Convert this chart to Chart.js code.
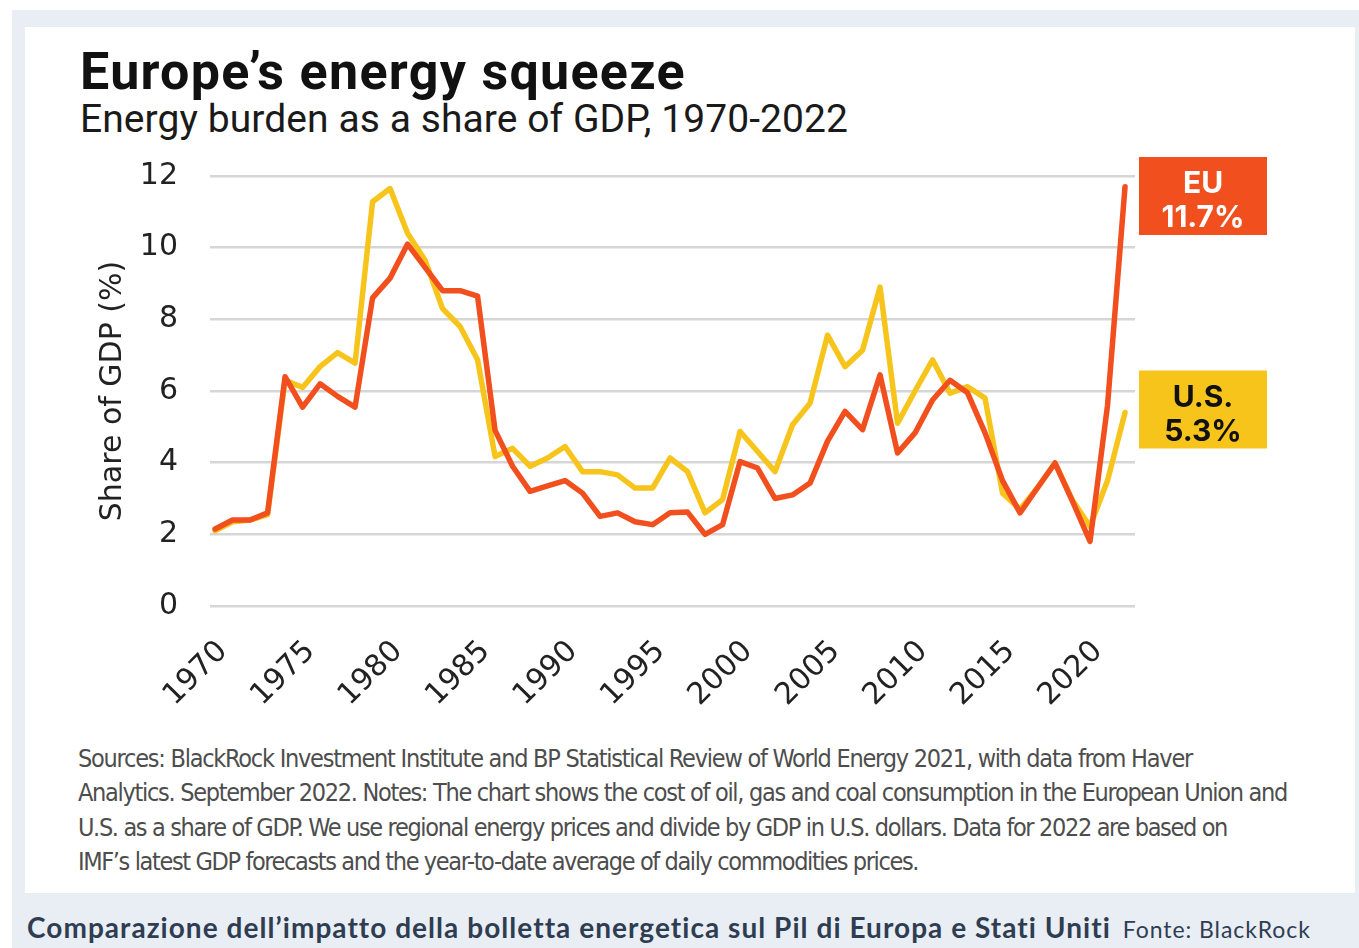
<!DOCTYPE html>
<html lang="en">
<head>
<meta charset="UTF-8" />
<title>Europe's energy squeeze</title>
<script src="https://cdn.jsdelivr.net/npm/chart.js"></script>
<style>
  html, body { margin: 0; padding: 0; background: #fff; }
  body { width: 1359px; height: 948px; position: relative; overflow: hidden; }
  #panel { position: absolute; left: 12px; top: 10px; right: 0; bottom: 0; background: #e9eef4; }
  #card { position: absolute; left: 25px; top: 27px; width: 1330px; height: 866px; background: #fff; }
  .txt { position: absolute; white-space: nowrap; }
  #title { left: 80px; top: 46px; font: 700 52px/52px Roboto, sans-serif; color: #111; }
  #subtitle { left: 80px; top: 100px; font: 400 39px/39px Roboto, sans-serif; color: #1a1a1a; }
  #chartBox { position: absolute; left: 80px; top: 126px; }
  #notes { left: 78px; top: 742px; font: 400 25px/34.3px "Liberation Sans Narrow", "DejaVu Sans Condensed", sans-serif; color: #4d4d4d; }
  #notes span { display: inline-block; }
  #caption { left: 27px; top: 913px; font: 700 28px/28px Lato, sans-serif; color: #2f3d52; }
  #caption .src { font-weight: 400; font-size: 23px; margin-left: 12px; }
</style>
</head>
<body>
  <div id="panel"></div>
  <div id="card"></div>
  <div class="txt" id="title"><span data-w="606">Europe’s energy squeeze</span></div>
  <div class="txt" id="subtitle"><span data-w="768">Energy burden as a share of GDP, 1970-2022</span></div>
  <div id="chartBox"><canvas id="energyChart" width="1200" height="590"></canvas></div>
  <div class="txt" id="notes">
    <span data-w="1114">Sources: BlackRock Investment Institute and BP Statistical Review of World Energy 2021, with data from Haver</span><br>
    <span data-w="1209">Analytics. September 2022. Notes: The chart shows the cost of oil, gas and coal consumption in the European Union and</span><br>
    <span data-w="1149">U.S. as a share of GDP. We use regional energy prices and divide by GDP in U.S. dollars. Data for 2022 are based on</span><br>
    <span data-w="840">IMF’s latest GDP forecasts and the year-to-date average of daily commodities prices.</span>
  </div>
  <div class="txt" id="caption"><span class="main" data-w="1083">Comparazione dell’impatto della bolletta energetica sul Pil di Europa e Stati Uniti</span><span class="src" data-w="188">Fonte: BlackRock</span></div>

<script>
  const years = [
    1970, 1971, 1972, 1973, 1974, 1975, 1976, 1977, 1978, 1979,
    1980, 1981, 1982, 1983, 1984, 1985, 1986, 1987, 1988, 1989,
    1990, 1991, 1992, 1993, 1994, 1995, 1996, 1997, 1998, 1999,
    2000, 2001, 2002, 2003, 2004, 2005, 2006, 2007, 2008, 2009,
    2010, 2011, 2012, 2013, 2014, 2015, 2016, 2017, 2018, 2019,
    2020, 2021, 2022,
  ];

  // share of GDP (%)
  const euShare = [
    2.15, 2.4, 2.4, 2.6, 6.4, 5.55, 6.2, 5.85, 5.55, 8.6,
    9.15, 10.1, 9.45, 8.8, 8.8, 8.65, 4.9, 3.9, 3.2, 3.35,
    3.5, 3.15, 2.5, 2.6, 2.35, 2.27, 2.6, 2.62, 2.0, 2.27,
    4.03, 3.85, 3.0, 3.1, 3.43, 4.6, 5.43, 4.92, 6.45, 4.27,
    4.83, 5.75, 6.3, 5.95, 4.83, 3.5, 2.6, 3.3, 3.99, 2.92,
    1.8, 5.6, 11.7,
  ];
  const usShare = [
    2.1, 2.35, 2.4, 2.55, 6.3, 6.1, 6.68, 7.07, 6.78, 11.28,
    11.65, 10.4, 9.65, 8.3, 7.8, 6.87, 4.17, 4.4, 3.9, 4.13,
    4.45, 3.75, 3.75, 3.66, 3.29, 3.29, 4.13, 3.75, 2.6, 2.97,
    4.87, 4.31, 3.75, 5.06, 5.66, 7.56, 6.68, 7.14, 8.9, 5.1,
    6.0, 6.87, 5.94, 6.12, 5.8, 3.15, 2.7, 3.3, 3.99, 2.95,
    2.22, 3.5, 5.4,
  ];

  const seriesNames = ["EU", "U.S."];
  const calloutValues = ["11.7%", "5.3%"];

  // stretch text lines to the widths they have in the original
  function fitWidth(el) {
    const target = parseFloat(el.dataset.w);
    el.style.letterSpacing = "0px";
    const w = el.getBoundingClientRect().width;
    el.style.letterSpacing = (target - w) / el.textContent.length + "px";
  }
  document.querySelectorAll("[data-w]").forEach(fitWidth);

  const calloutPlugin = {
    id: "callouts",
    afterDatasetsDraw(chart) {
      const { ctx, chartArea, scales } = chart;
      chart.data.datasets.forEach((ds, i) => {
        const last = ds.data[ds.data.length - 1].y;
        const w = 128, h = 78;
        let top = scales.y.getPixelForValue(last) - h / 2 - 3;
        top = Math.max(top, chartArea.top - 19);
        const left = chartArea.right + 4;
        ctx.save();
        ctx.fillStyle = ds.borderColor;
        ctx.fillRect(left, top, w, h);
        ctx.fillStyle = i === 0 ? "#ffffff" : "#111111";
        ctx.font = "700 30px Inter";
        ctx.textAlign = "center";
        ctx.textBaseline = "middle";
        ctx.fillText(seriesNames[i], left + w / 2, top + h / 2 - 12);
        ctx.fillText(calloutValues[i], left + w / 2, top + h / 2 + 22);
        ctx.restore();
      });
    },
  };

  const toPoints = (vals) => vals.map((v, i) => ({ x: years[i], y: v }));

  const ctx = document.getElementById("energyChart").getContext("2d");
  new Chart(ctx, {
    type: "line",
    data: {
      datasets: [
        {
          label: seriesNames[0],
          data: toPoints(euShare),
          borderColor: "#f24f1e",
          borderWidth: 5.5,
          pointRadius: 0,
          tension: 0,
          borderJoinStyle: "round",
          borderCapStyle: "round",
        },
        {
          label: seriesNames[1],
          data: toPoints(usShare),
          borderColor: "#f7c41c",
          borderWidth: 5.5,
          pointRadius: 0,
          tension: 0,
          borderJoinStyle: "round",
          borderCapStyle: "round",
        },
      ],
    },
    options: {
      responsive: false,
      animation: false,
      layout: { padding: { left: 0, top: 22, right: 145, bottom: 0 } },
      plugins: { legend: { display: false }, tooltip: { enabled: false } },
      scales: {
        x: {
          type: "linear",
          min: 1969.71,
          max: 2022.57,
          grid: { display: false, drawTicks: false },
          border: { display: false },
          afterFit: (scale) => { scale.height = 110; },
          ticks: {
            stepSize: 5,
            includeBounds: false,
            autoSkip: false,
            minRotation: 45,
            maxRotation: 45,
            padding: 28,
            labelOffset: 8,
            color: "#222",
            font: { family: "DejaVu Sans", size: 30 },
            callback: (v) => String(v),
          },
        },
        y: {
          min: 0,
          max: 12,
          afterFit: (scale) => { scale.width = 130; },
          grid: { color: "#d6d6d6", lineWidth: 2.5, drawTicks: false },
          border: { display: false },
          ticks: {
            stepSize: 2,
            padding: 32,
            color: "#222",
            font: { family: "DejaVu Sans", size: 30 },
          },
          title: {
            display: true,
            text: "Share of GDP (%)",
            color: "#222",
            font: { family: "DejaVu Sans", size: 30, weight: "normal" },
            padding: { top: 15, bottom: 0 },
          },
        },
      },
    },
    plugins: [calloutPlugin],
  });
</script>
</body>
</html>
